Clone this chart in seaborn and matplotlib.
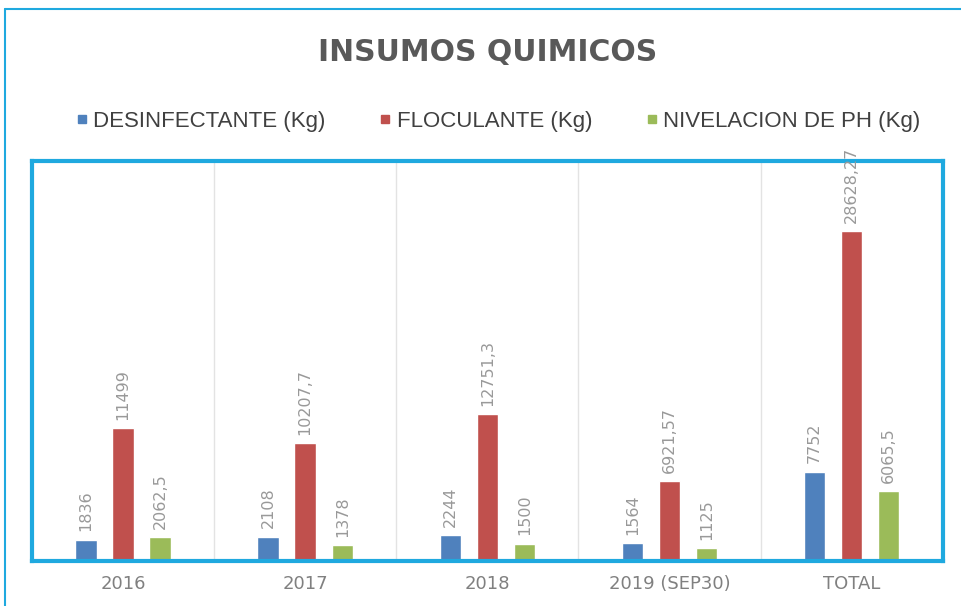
import seaborn as sns
import pandas as pd
import matplotlib.pyplot as plt
from matplotlib.lines import Line2D

# datos del grafico
periodos = ['2016', '2017', '2018', '2019 (SEP30)', 'TOTAL']
insumos = ['DESINFECTANTE (Kg)', 'FLOCULANTE (Kg)', 'NIVELACION DE PH (Kg)']
desinfectante = [1836, 2108, 2244, 1564, 7752]
floculante = [11499, 10207.7, 12751.3, 6921.57, 28628.27]
nivelacion = [2062.5, 1378, 1500, 1125, 6065.5]
etiquetas = [
    ['1836', '2108', '2244', '1564', '7752'],
    ['11499', '10207,7', '12751,3', '6921,57', '28628,27'],
    ['2062,5', '1378', '1500', '1125', '6065,5'],
]
colores = ['#4F81BD', '#C0504D', '#9BBB59']

rows = []
for nombre, serie in zip(insumos, [desinfectante, floculante, nivelacion]):
    for p, v in zip(periodos, serie):
        rows.append({'periodo': p, 'insumo': nombre, 'valor': v})
df = pd.DataFrame(rows)

sns.set_style('white')
plt.rcParams['font.family'] = ['Liberation Sans', 'DejaVu Sans']

fig = plt.figure(figsize=(9.61, 6.06), dpi=100)
ax = fig.add_axes([0.0333, 0.0743, 0.9477, 0.6597])

sns.barplot(data=df, x='periodo', y='valor', hue='insumo', palette=colores,
            width=0.61, gap=0.42, ax=ax, errorbar=None, saturation=1)

for cont, labs in zip(ax.containers, etiquetas):
    ax.bar_label(cont, labels=labs, rotation=90, padding=6, fontsize=11.5,
                 color='#999999', family='DejaVu Sans', clip_on=False)

ax.set_xlim(-0.5, 4.5)
ax.set_ylim(0, 34700)
ax.set_yticks([])
ax.set_xlabel('')
ax.set_ylabel('')
ax.set_xticks([0.5, 1.5, 2.5, 3.5], minor=True)
ax.grid(True, which='minor', axis='x', color='#e3e3e3', linewidth=1)
ax.tick_params(axis='x', which='both', length=0, pad=10)
for t in ax.get_xticklabels():
    t.set_color('#808080')
    t.set_fontsize(13)
    t.set_family('DejaVu Sans')
for s in ax.spines.values():
    s.set_color('#1FA9DF')
    s.set_linewidth(3)

ax.legend_.remove()
handles = [plt.Line2D([], [], marker='s', linestyle='', color=c, markersize=6) for c in colores]
fig.legend(handles, insumos, loc='center', bbox_to_anchor=(0.51, 0.80), ncol=3,
           frameon=False, fontsize=16, handletextpad=-0.5, columnspacing=1.7,
           labelcolor='#404040')

fig.text(0.507, 0.914, 'INSUMOS QUIMICOS', ha='center', va='center',
         fontsize=21.5, fontweight='bold', color='#595959', family='DejaVu Sans')

# marco exterior
fig.add_artist(Line2D([5/961, 5/961], [0, 1 - 9/606], color='#1FA9DF', linewidth=1.5))
fig.add_artist(Line2D([5/961, 1], [1 - 9/606, 1 - 9/606], color='#1FA9DF', linewidth=1.5))

fig.savefig('out.png', dpi=100)
